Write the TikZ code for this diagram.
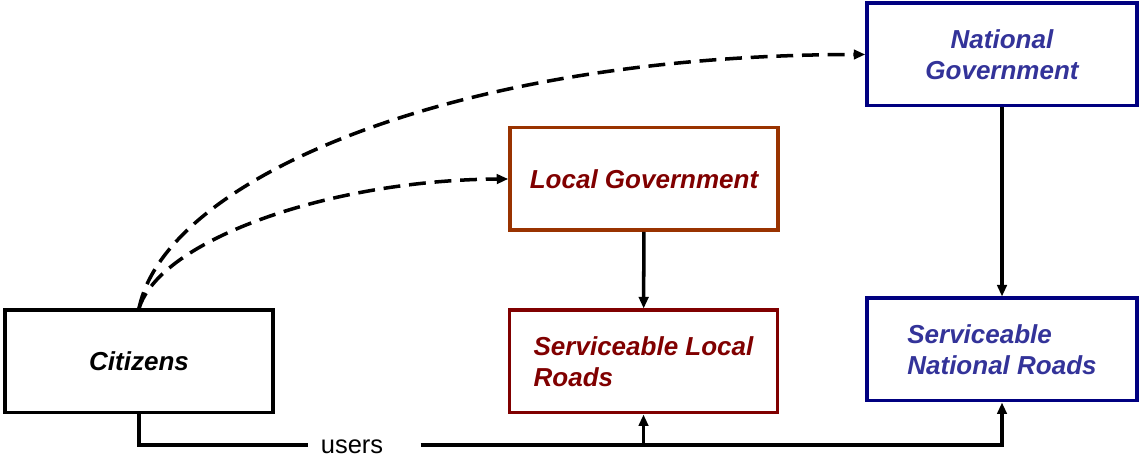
\documentclass[tikz,border=0pt]{standalone}
\usepackage{fontspec}
\setmainfont{Liberation Sans}
\usetikzlibrary{arrows.meta}

\definecolor{locframe}{HTML}{993300}
\definecolor{loctext}{HTML}{800000}
\definecolor{natframe}{HTML}{000080}
\definecolor{nattext}{HTML}{333399}

\begin{document}
\begin{tikzpicture}[>={Triangle[length=0.23cm,width=0.19cm]},
    agent/.style ={rectangle, draw, line width=2pt, minimum width=5.36cm, minimum height=2.05cm,
                   inner sep=0pt, align=left, font=\fontsize{14.8}{17.5}\selectfont\bfseries\itshape},
    link/.style ={line width=2pt},
    claim/.style ={line width=2pt, dash pattern=on 9.6pt off 5pt}]
   \useasboundingbox (0,0) rectangle (22.78,9.28);

   \node[agent] (citizens)   at (2.78,2.05)  {Citizens};
   \node[agent, draw=locframe, text=loctext] (localgov)   at (12.88,5.70)  {Local Government};
   \node[agent, draw=loctext, text=loctext]  (localroads) at (12.87,2.05)  {Serviceable Local\\Roads};
   \node[agent, draw=natframe, text=nattext, minimum width=5.40cm, align=center] (natgov) at (20.04,8.19) {National\\Government};
   \node[agent, draw=natframe, text=nattext, minimum width=5.40cm] (natroads) at (20.04,2.29) {Serviceable\\National Roads};
   \node[font=\fontsize{14.5}{17}\selectfont, inner xsep=0.24cm] (users) at (7.04,0.34) {users};
   \coordinate (split) at (localroads.south |- 0,0.38);
   \coordinate (resume) at ([xshift=0.5cm]users.east |- split);

   \draw[link, ->] (localgov) to (localroads);
   \draw[link, ->] (natgov) to (natroads);
   \draw[link] (citizens.south) |- (users.west |- split);
   \draw[link, ->] (resume) -| (natroads.south);
   \draw[link, ->] (split) to (localroads.south);

   \draw[claim, ->] (citizens.north) .. controls (3.2,4.48) and (6.6,5.68) .. (localgov.west);
   \draw[claim, ->] (citizens.north) .. controls (3.3,5.68) and (9.0,8.18) .. (natgov.west);

 \end{tikzpicture}
\end{document}
